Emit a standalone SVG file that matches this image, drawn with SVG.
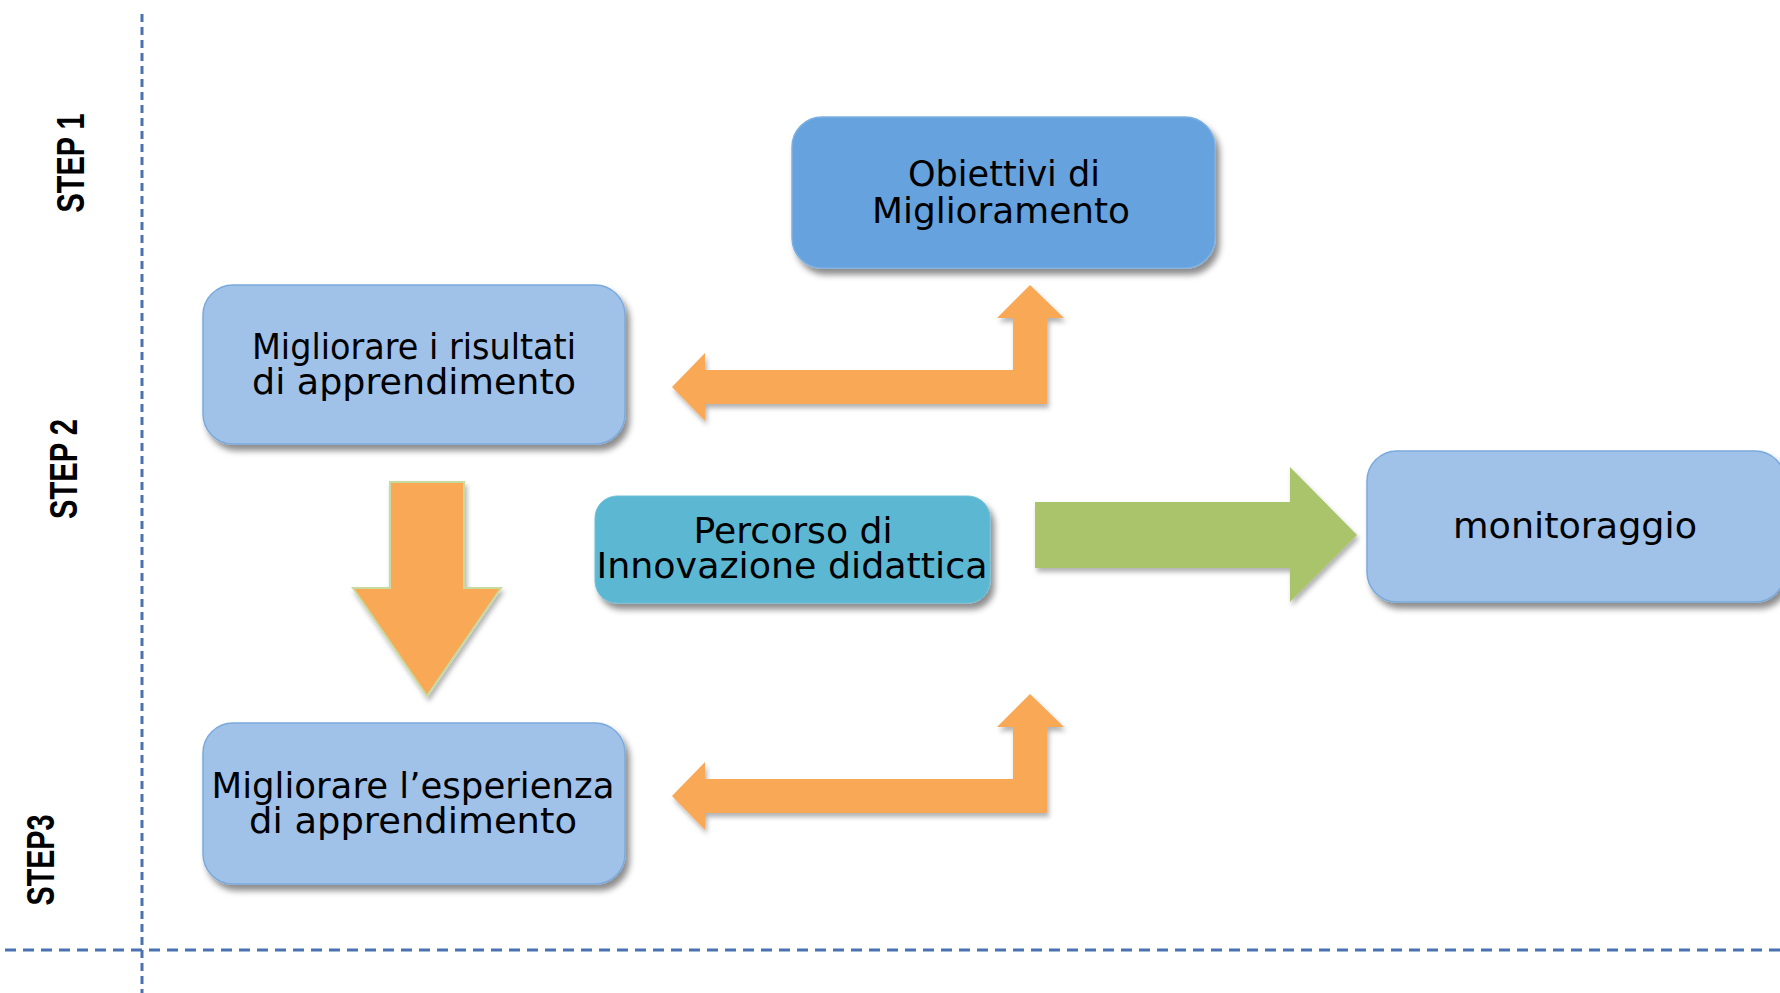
<svg xmlns="http://www.w3.org/2000/svg" width="1780" height="993" viewBox="0 0 1780 993">
<defs>
<filter id="sh" x="-10%" y="-10%" width="130%" height="140%">
<feDropShadow dx="4" dy="6" stdDeviation="3" flood-color="#000" flood-opacity="0.45"/>
</filter>
<filter id="sha" x="-10%" y="-10%" width="130%" height="140%">
<feDropShadow dx="2" dy="4" stdDeviation="2.5" flood-color="#000" flood-opacity="0.3"/>
</filter>
<style>
.lbl{font-family:"DejaVu Sans","Liberation Sans",sans-serif;font-size:35px;fill:#000;text-anchor:middle}
.step{font-family:"Liberation Sans Narrow","Liberation Sans",sans-serif;font-weight:bold;font-size:38px;fill:#000;text-anchor:middle}
.lb{fill:#A0C2E8;stroke:#7AAADC;stroke-width:1.5}
.orange{fill:#F9A856}
.vdash{stroke:#4A72B0;stroke-width:3;stroke-dasharray:8 5;fill:none}
.hdash{stroke:#4A72B0;stroke-width:3;stroke-dasharray:11 7;fill:none}
</style>
</defs>
<rect width="1780" height="993" fill="#fff"/>

<g id="guides">
<line class="vdash" x1="142" y1="14" x2="142" y2="993"/>
<line class="hdash" x1="5" y1="950" x2="1780" y2="950"/>
</g>

<g id="steps">
<text class="step" transform="translate(84,163) rotate(-90)" textLength="99" lengthAdjust="spacingAndGlyphs">STEP 1</text>
<text class="step" transform="translate(77,469) rotate(-90)" textLength="100" lengthAdjust="spacingAndGlyphs">STEP 2</text>
<text class="step" transform="translate(54,860) rotate(-90)" textLength="91" lengthAdjust="spacingAndGlyphs">STEP3</text>
</g>

<g id="connectors">
<polygon class="orange" filter="url(#sha)" points="672,387 705,353 705,370 1013,370 1013,318 997,318 1030,285 1064,318 1047,318 1047,404 705,404 705,421"/>
<polygon class="orange" filter="url(#sha)" points="672,796 705,762 705,779 1013,779 1013,727 997,727 1030,694 1064,727 1047,727 1047,813 705,813 705,830"/>
<polygon class="orange" filter="url(#sha)" stroke="#C9DA9E" stroke-width="2" points="390,482 464,482 464,588 501,588 427,696 353,588 390,588"/>
<polygon fill="#A9C46B" filter="url(#sha)" points="1035,502 1290,502 1290,467 1357,535 1290,602 1290,568 1035,568"/>
</g>

<g id="obiettivi">
<rect x="792" y="117" width="423" height="151" rx="30" fill="#66A2DD" stroke="#7DB0E2" stroke-width="1.5" filter="url(#sh)"/>
<text class="lbl" x="1004" y="186" textLength="192" lengthAdjust="spacingAndGlyphs">Obiettivi di</text>
<text class="lbl" x="1001" y="223" textLength="258" lengthAdjust="spacingAndGlyphs">Miglioramento</text>
</g>

<g id="risultati">
<rect class="lb" x="203" y="285" width="422" height="159" rx="30" filter="url(#sh)"/>
<text class="lbl" x="414" y="359" textLength="324" lengthAdjust="spacingAndGlyphs">Migliorare i risultati</text>
<text class="lbl" x="414" y="394" textLength="324" lengthAdjust="spacingAndGlyphs">di apprendimento</text>
</g>

<g id="percorso">
<rect x="595" y="496" width="395" height="107" rx="22" fill="#5BB7D3" stroke="#6EBFD8" stroke-width="1" filter="url(#sh)"/>
<text class="lbl" x="793" y="543" textLength="199" lengthAdjust="spacingAndGlyphs">Percorso di</text>
<text class="lbl" x="792" y="578" textLength="391" lengthAdjust="spacingAndGlyphs">Innovazione didattica</text>
</g>

<g id="monitoraggio">
<rect class="lb" x="1367" y="451" width="418" height="151" rx="30" stroke="none" filter="url(#sh)"/>
<text class="lbl" x="1575" y="538" textLength="244" lengthAdjust="spacingAndGlyphs">monitoraggio</text>
</g>

<g id="esperienza">
<rect class="lb" x="203" y="723" width="422" height="161" rx="30" stroke="none" filter="url(#sh)"/>
<text class="lbl" x="413" y="798" textLength="403" lengthAdjust="spacingAndGlyphs">Migliorare l’esperienza</text>
<text class="lbl" x="413" y="833" textLength="328" lengthAdjust="spacingAndGlyphs">di apprendimento</text>
</g>
</svg>
